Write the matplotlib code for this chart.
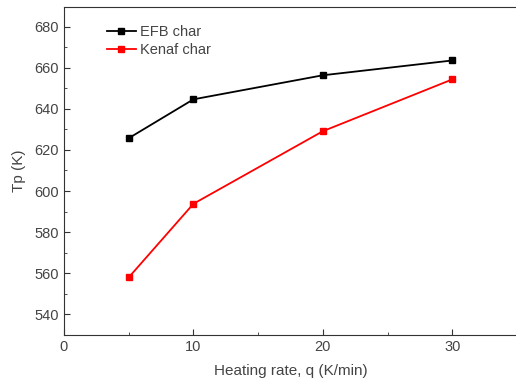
import matplotlib
matplotlib.use("Agg")
import matplotlib.pyplot as plt
from matplotlib.ticker import MultipleLocator

plt.rcParams['font.family'] = ['Liberation Sans', 'DejaVu Sans']

heating_rate = [5, 10, 20, 30]
efb_tp = [625.7, 644.6, 656.3, 663.5]
kenaf_tp = [558.0, 593.8, 629.1, 654.3]

fig = plt.figure(figsize=(5.16, 3.82), dpi=100)
ax = fig.add_axes([64/516, 1-335/382, 453/516, (335-7)/382])

ax.plot(heating_rate, efb_tp, color='black', marker='s', markersize=4, lw=1.3, label='EFB char')
ax.plot(heating_rate, kenaf_tp, color='red', marker='s', markersize=4, lw=1.3, label='Kenaf char')

ax.set_xlim(0, 35)
ax.set_ylim(530, 689.5)
ax.xaxis.set_major_locator(MultipleLocator(10))
ax.xaxis.set_minor_locator(MultipleLocator(5))
ax.yaxis.set_major_locator(MultipleLocator(20))
ax.yaxis.set_minor_locator(MultipleLocator(10))
ax.tick_params(which='both', direction='in', labelsize=10.5, colors='#333333', labelcolor='#444444')
ax.tick_params(which='major', length=4)
ax.tick_params(which='minor', length=2)
for s in ax.spines.values():
    s.set_color('#333333')

ax.set_xlabel('Heating rate, q (K/min)', fontsize=11, color='#444444', labelpad=7)
ax.set_ylabel('Tp (K)', fontsize=11, color='#444444', labelpad=6)

leg = ax.legend(loc='upper left', bbox_to_anchor=(0.065, 0.985), frameon=False, fontsize=10.5,
                handlelength=2.0, handletextpad=0.3, labelspacing=0.3)
for t in leg.get_texts():
    t.set_color('#444444')

fig.savefig('out.png', dpi=100)
